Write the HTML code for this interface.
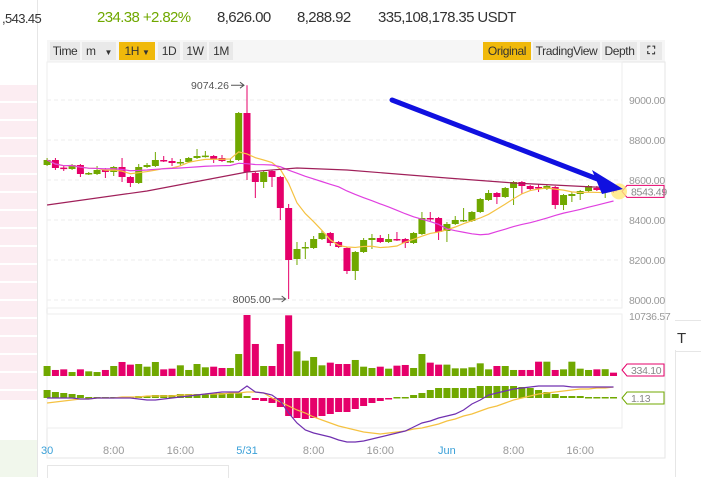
<!DOCTYPE html>
<html><head><meta charset="utf-8"><style>
body{margin:0;width:701px;height:477px;overflow:hidden;background:#fff;font-family:"Liberation Sans",sans-serif;position:relative}
.t{position:absolute;white-space:nowrap;letter-spacing:-0.6px}
.btn{position:absolute;top:42px;height:18px;line-height:18px;font-size:12px;color:#333;background:#e9e9e9;text-align:center;letter-spacing:-0.4px}
.y{background:#f0b90b}
</style></head><body>
<div style="position:absolute;left:0;top:85px;width:37px;height:315px;background:repeating-linear-gradient(#fcedf2 0 16px,#fff 16px 18px)"></div>
<div style="position:absolute;left:0;top:440px;width:37px;height:37px;background:#f1f7ec"></div>
<div style="position:absolute;left:37px;top:0;width:1px;height:477px;background:#e6e6e6"></div>
<div class="t" style="left:2px;top:11px;font-size:13px;color:#333">,543.45</div>
<div class="t" style="left:97px;top:9px;font-size:15px;color:#70a800">234.38 +2.82%</div>
<div class="t" style="left:217px;top:9px;font-size:15px;color:#333">8,626.00</div>
<div class="t" style="left:297px;top:9px;font-size:15px;color:#333">8,288.92</div>
<div class="t" style="left:378px;top:9px;font-size:15px;color:#333">335,108,178.35 USDT</div>
<div style="position:absolute;left:47px;top:40px;width:618px;height:22px;background:#f6f6f6"></div>
<div class="btn" style="left:50px;width:30px">Time</div>
<div class="btn" style="left:82px;width:34px;text-align:left;padding-left:4px;box-sizing:border-box">m <span style="font-size:8px;margin-left:6px">▼</span></div>
<div class="btn y" style="left:119px;width:36px">1H <span style="font-size:8px">▼</span></div>
<div class="btn" style="left:158px;width:22px">1D</div>
<div class="btn" style="left:183px;width:24px">1W</div>
<div class="btn" style="left:209px;width:24px">1M</div>
<div class="btn y" style="left:483px;width:48px">Original</div>
<div class="btn" style="left:533px;width:67px">TradingView</div>
<div class="btn" style="left:602px;width:35px">Depth</div>
<div class="btn" style="left:640px;width:22px;font-size:11px;font-weight:bold">⛶</div>
<div style="position:absolute;left:675px;top:320px;width:26px;height:30px;border-top:1px solid #e6e6e6;border-bottom:1px solid #e6e6e6"></div>
<div class="t" style="left:677px;top:330px;font-size:15px;color:#333">T</div>
<div style="position:absolute;left:675px;top:350px;width:1px;height:127px;background:#e6e6e6"></div>
<div style="position:absolute;left:47px;top:465px;width:180px;height:12px;border:1px solid #e6e6e6;border-bottom:none"></div>
<svg id="c" width="701" height="477" style="position:absolute;left:0;top:0" font-family="Liberation Sans, sans-serif"></svg>
<script>
const hours=[];for(let h=-24;h<=44;h++)hours.push(h);
const opens=[8675,8700,8662,8655,8675,8630,8630,8650,8640,8665,8615,8585,8665,8670,8700,8695,8685,8690,8710,8718,8720,8710,8690,8700,
8935,8635,8590,8645,8615,8460,8205,8260,8260,8305,8335,8290,8260,8145,8240,8300,8310,8290,8305,8305,8285,8330,8410,8410,8345,8380,8395,8395,8440,8500,8535,8515,8560,8590,8570,8565,8555,8565,8475,8520,8530,8545,8560,8550,8560];
const closes=[8700,8660,8655,8675,8630,8635,8650,8640,8665,8615,8585,8665,8675,8700,8695,8685,8690,8710,8720,8722,8705,8695,8695,8935,
8640,8590,8640,8615,8460,8200,8255,8265,8305,8335,8285,8265,8145,8240,8300,8310,8290,8305,8300,8285,8335,8410,8405,8340,8380,8400,8400,8440,8505,8535,8515,8560,8590,8570,8555,8560,8570,8475,8525,8530,8545,8570,8550,8565,8543];
const highs=[8710,8710,8672,8680,8680,8640,8670,8660,8670,8710,8620,8680,8685,8740,8720,8710,8705,8715,8755,8745,8725,8725,8705,8940,
9074,8640,8645,8650,8620,8480,8290,8290,8320,8350,8340,8295,8265,8245,8310,8330,8325,8330,8340,8310,8340,8440,8440,8415,8390,8420,8460,8445,8510,8550,8540,8565,8595,8595,8575,8580,8575,8570,8530,8540,8550,8575,8570,8575,8570];
const lows=[8670,8650,8645,8650,8615,8625,8625,8610,8620,8590,8565,8580,8660,8665,8690,8670,8670,8685,8705,8712,8685,8690,8685,8695,
8600,8510,8560,8565,8400,8005,8175,8205,8255,8300,8270,8260,8130,8100,8235,8255,8285,8285,8295,8260,8280,8325,8395,8300,8290,8375,8390,8390,8435,8495,8480,8510,8475,8530,8550,8540,8550,8455,8450,8490,8500,8540,8545,8510,8535];
const volumes=[1760,1060,1170,700,1170,820,700,1060,1760,2465,2000,2110,1640,2465,1170,1290,1880,1060,2110,1530,1640,1410,1410,3870,
10736,5635,1760,1760,5635,10680,4340,2700,3345,1880,2350,2110,2110,2820,1640,1410,1640,1290,1820,1940,1410,3870,2350,2000,2000,1350,1350,1530,2230,1170,1760,1760,1060,1060,1060,2520,2520,1060,1170,2520,1290,1060,1170,1200,590];
const macdHist=[8,6,5,4,3,1,1,0,0,1,1,2,2,3,3,3,4,4,4,4,5,5,5,5,
2,-2,-3,-5,-9,-18,-20,-21,-20,-18,-16,-14,-14,-11,-8,-5,-3,-1,0,1,3,5,8,10,10,10,10,10,12,12,12,12,12,11,10,8,6,4,2,2,2,1,1,1,1];
const dif=[0,0,0,0,-1,-1,0,0,0,0,0,-1,-2,-2,-1,0,1,2,3,4,5,6,6,6,
12,6,5,3,-3,-15,-25,-32,-35,-37,-39,-42,-44,-44,-43,-41,-39,-37,-35,-33,-29,-25,-23,-20,-18,-16,-12,-6,-2,3,5,7,9,10,11,12,12,12,12,11,11,11,11,11,11];
const dea=[-5,-4,-3,-2,-1,-1,0,0,0,1,1,1,2,2,2,2,3,3,3,4,4,4,5,5,
6,6,5,0,-4,-8,-12,-15,-19,-22,-25,-28,-30,-32,-34,-35,-36,-35,-34,-33,-31,-30,-28,-26,-23,-21,-18,-16,-13,-10,-8,-5,-2,0,2,4,5,6,7,8,9,9,10,10,11];
const ma99Hours=[-24,-12,0,6,12,24,32,44];
const ma99Vals=[8475,8545,8640,8660,8650,8610,8585,8560];
const priceTicks=[9000,8800,8600,8400,8200,8000];
const timeLabels=["30","8:00","16:00","5/31","8:00","16:00","Jun","8:00","16:00"];
const timeLabelHours=[-24,-16,-8,0,8,16,24,32,40];

const svg=document.getElementById('c');const NS='http://www.w3.org/2000/svg';
function el(t,a,p){const e=document.createElementNS(NS,t);for(const k in a)e.setAttribute(k,a[k]);(p||svg).appendChild(e);return e;}
const X=h=>247+h*8.33, PY=p=>100+(9000-p)*0.2, VY=v=>376-v/10736.57*61, MY=v=>398-v*1;
const G='#70a800',R='#e5006a';
let f=el('rect',{x:47,y:62,width:618,height:396,fill:'none',stroke:'#e6e6e6'});
f=el('rect',{x:47,y:62,width:575,height:246,fill:'none',stroke:'#eee'});
f=el('rect',{x:47,y:314,width:575,height:114,fill:'none',stroke:'#eee'});
priceTicks.forEach(p=>{let l=el('line',{x1:47,x2:622,y1:PY(p),y2:PY(p),stroke:'#eee','stroke-dasharray':'4,3'});
let t=el('text',{x:629,y:PY(p)+4,'font-size':10.5,fill:'#999','letter-spacing':'-0.3'});t.textContent=p.toFixed(2);});
timeLabels.forEach((s,i)=>{let t=el('text',{x:X(timeLabelHours[i]),y:454,'font-size':11,fill:(s=='5/31'||s=='Jun'||s=='30')?'#3aa0d8':'#999','text-anchor':'middle'});t.textContent=s;});
let vt=el('text',{x:629,y:320,'font-size':10.5,fill:'#999','letter-spacing':'-0.3'});vt.textContent='10736.57';
hours.forEach((h,i)=>{const up=closes[i]>=opens[i],c=up?G:R,x=X(h);
let w=el('line',{x1:x,x2:x,y1:PY(highs[i]),y2:PY(lows[i]),stroke:c,'stroke-width':1});
const t=PY(Math.max(opens[i],closes[i])),b=PY(Math.min(opens[i],closes[i]));
let r=el('rect',{x:x-3.5,y:t,width:7,height:Math.max(1.5,b-t),fill:c});
let v=el('rect',{x:x-3.5,y:VY(volumes[i]),width:7,height:376-VY(volumes[i]),fill:c});
const m=macdHist[i];let mb=el('rect',{x:x-3.5,y:Math.min(MY(m),398)-(m==0?1:0),width:7,height:Math.max(1.5,Math.abs(MY(m)-398)),fill:m>=0?G:R});});
function ma(n){return closes.map((_,i)=>{const s=closes.slice(Math.max(0,i-n+1),i+1);return s.reduce((a,b)=>a+b,0)/s.length;});}
function poly(xs,ys,col,name){let p=el('polyline',{points:xs.map((x,i)=>x+','+ys[i]).join(' '),fill:'none',stroke:col,'stroke-width':1.2});}
const hx=hours.map(X);
poly(hx,ma(7).map(PY),'#f5c242','ma7-line');
poly(hx,ma(25).map(PY),'#e040e0','ma25-line');
poly(ma99Hours.map(X),ma99Vals.map(PY),'#a0205a','ma99-line');
poly(hx,dea.map(MY),'#f5c242','dea-line');
poly(hx,dif.map(MY),'#7030b0','dif-line');
function ann(txt,h,p,name){const x=X(h),y=PY(p);let t=el('text',{x:x-18,y:y+4,'font-size':10.5,fill:'#555','text-anchor':'end'});t.textContent=txt;
let a=el('path',{d:`M${x-16} ${y}H${x-3}M${x-7} ${y-3}L${x-3} ${y}L${x-7} ${y+3}`,stroke:'#555',fill:'none'});}
ann('9074.26',0,9074,'high-marker');ann('8005.00',5,8005,'low-marker');
function tag(txt,y,col,name){let p=el('path',{d:`M622 ${y}l5 -6h37v12h-37z`,fill:'#fff',stroke:col});
let t=el('text',{x:631,y:y+4,'font-size':10.5,fill:'#888','letter-spacing':'-0.3'});t.textContent=txt;}
tag('8543.49',PY(8543),R,'last-price-tag');tag('334.10',370,R,'volume-tag');tag('1.13',398,G,'macd-tag');
let gl=el('circle',{cx:619,cy:PY(8543),r:8,fill:'#ffe97a',opacity:0.8});
let ar=el('path',{d:'M392 100L600 180',stroke:'#1010e0','stroke-width':5,'stroke-linecap':'round'});
let ah=el('path',{d:'M623 189L592 170L602 194Z',fill:'#1010e0'});
</script>
</body></html>
